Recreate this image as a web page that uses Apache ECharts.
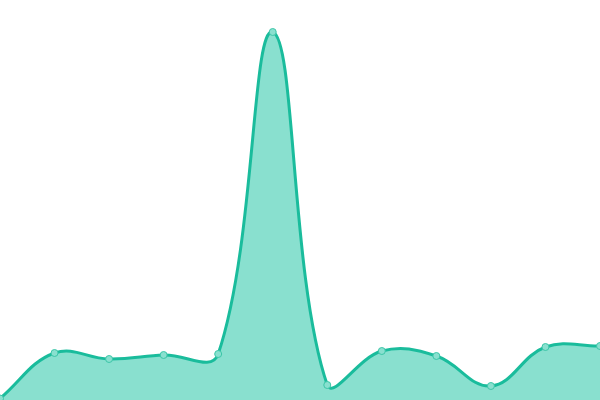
<!DOCTYPE html>
<html>
<head>
<meta charset="utf-8">
<script src="https://cdn.jsdelivr.net/npm/echarts@6/dist/echarts.min.js"></script>
<style>
    html, body { margin: 0; padding: 0; background: #fff; }
    #chart { width: 600px; height: 400px; }
</style>
</head>
<body>
<div id="chart"></div>
<script>
var categories = ['1', '2', '3', '4', '5', '6', '7', '8', '9', '10', '11', '12'];
var values = [1.5, 47, 41, 45, 46, 368, 15, 49, 44, 14, 53, 54];

var TENSION = 0.4;

var myChart = echarts.init(document.getElementById('chart'));

// curve with tension like a cardinal spline (overshoots a little, unlike echarts smooth)
function renderCurve(params, api) {
    var pts = values.map(function (v, i) { return api.coord([i, v]); });
    var base = api.coord([0, 0])[1];
    var cs = params.coordSys;
    function clamp(p) {
        return [
            Math.max(cs.x, Math.min(cs.x + cs.width, p[0])),
            Math.max(cs.y, Math.min(cs.y + cs.height, p[1]))
        ];
    }
    var cps = pts.map(function (cur, i) {
        var prev = pts[i - 1] || cur;
        var next = pts[i + 1] || cur;
        var d01 = Math.hypot(cur[0] - prev[0], cur[1] - prev[1]);
        var d12 = Math.hypot(next[0] - cur[0], next[1] - cur[1]);
        var s = d01 + d12 || 1;
        var fa = TENSION * d01 / s;
        var fb = TENSION * d12 / s;
        return {
            prev: clamp([cur[0] - fa * (next[0] - prev[0]), cur[1] - fa * (next[1] - prev[1])]),
            next: clamp([cur[0] + fb * (next[0] - prev[0]), cur[1] + fb * (next[1] - prev[1])])
        };
    });
    var d = 'M' + pts[0][0] + ' ' + pts[0][1];
    for (var i = 1; i < pts.length; i++) {
        var a = cps[i - 1].next, b = cps[i].prev;
        d += ' C' + a[0] + ' ' + a[1] + ' ' + b[0] + ' ' + b[1] + ' ' + pts[i][0] + ' ' + pts[i][1];
    }
    var last = pts[pts.length - 1];
    var area = d + ' L' + last[0] + ' ' + base + ' L' + pts[0][0] + ' ' + base + ' Z';
    return {
        type: 'group',
        children: [
            { type: 'path', shape: { pathData: area }, style: { fill: '#89e0cf', stroke: null } },
            { type: 'path', shape: { pathData: d }, style: { fill: null, stroke: '#1abc9c', lineWidth: 3 } }
        ]
    };
}

var option = {
    animation: false,
    grid: { left: 0, right: 0, top: 0, bottom: 0 },
    xAxis: {
        type: 'category',
        data: categories,
        boundaryGap: false,
        show: false
    },
    yAxis: {
        type: 'value',
        min: 0,
        max: 400,
        show: false
    },
    series: [
        {
            type: 'custom',
            renderItem: renderCurve,
            data: [[0, 0]],
            z: 1
        },
        {
            type: 'scatter',
            data: values,
            symbol: 'circle',
            symbolSize: 7,
            itemStyle: { color: '#89e0cf', borderColor: '#3cc6a8', borderWidth: 1, opacity: 1 },
            z: 3
        }
    ]
};

myChart.setOption(option);
</script>
</body>
</html>
